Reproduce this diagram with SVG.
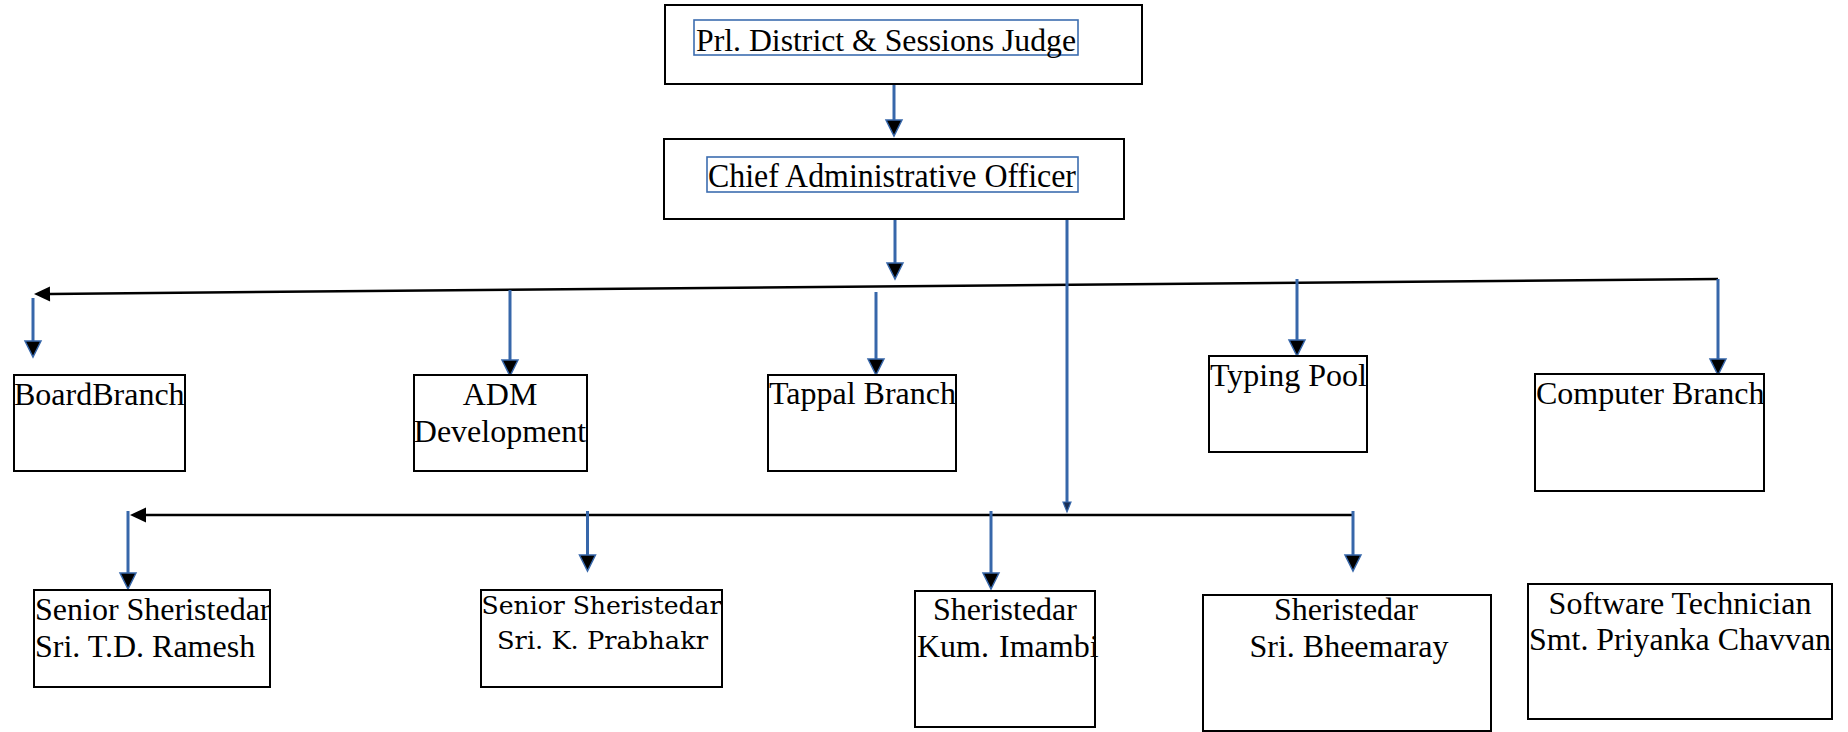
<svg xmlns="http://www.w3.org/2000/svg" width="1848" height="732" viewBox="0 0 1848 732">
<style>
.box{fill:#fff;stroke:#000;stroke-width:2}
.tb{fill:none;stroke:#3c6db0;stroke-width:1.6}
.t{font-family:"Liberation Serif","Times New Roman",serif;font-size:32px;fill:#000}
.t2{font-family:"DejaVu Serif",serif;font-size:24px;fill:#000}
.m{text-anchor:middle}
.bl{stroke:#3767aa;stroke-width:3;fill:none;marker-end:url(#ab)}
.blt{stroke:#3767aa;stroke-width:3;fill:none;marker-end:url(#abs)}
.k{stroke:#000;stroke-width:2.5;fill:none;marker-end:url(#ak)}
</style>
<defs>
<marker id="ab" markerUnits="userSpaceOnUse" markerWidth="20" markerHeight="20" viewBox="-2 -10 20 20" refX="0" refY="0" orient="auto" overflow="visible">
<path d="M0,-8 L16,0 L0,8 Z" fill="#000" stroke="#3767aa" stroke-width="1.5" stroke-linejoin="miter"/>
</marker>
<marker id="abs" markerUnits="userSpaceOnUse" markerWidth="14" markerHeight="14" viewBox="-2 -7 14 14" refX="0" refY="0" orient="auto" overflow="visible">
<path d="M0,-4 L10,0 L0,4 Z" fill="#1a2f55" stroke="#3767aa" stroke-width="1.2"/>
</marker>
<marker id="ak" markerUnits="userSpaceOnUse" markerWidth="20" markerHeight="20" viewBox="-2 -10 20 20" refX="0" refY="0" orient="auto" overflow="visible">
<path d="M0,-7.5 L16,0 L0,7.5 Z" fill="#000"/>
</marker>
</defs>

<g id="connectors">
<line class="k" x1="1718" y1="279" x2="50" y2="293.9"/>
<line class="k" x1="1353" y1="515" x2="146" y2="515"/>
<line class="bl" x1="894" y1="77" x2="894" y2="120"/>
<line class="bl" x1="895" y1="213" x2="895" y2="263"/>
<line class="blt" x1="1067" y1="219" x2="1067" y2="502"/>
<line class="bl" x1="33" y1="298" x2="33" y2="341"/>
<line class="bl" x1="510" y1="290" x2="510" y2="360"/>
<line class="bl" x1="876" y1="292" x2="876" y2="359"/>
<line class="bl" x1="1297" y1="279" x2="1297" y2="340"/>
<line class="bl" x1="1718" y1="279" x2="1718" y2="359"/>
<line class="bl" x1="128" y1="511" x2="128" y2="573"/>
<line class="bl" x1="587.5" y1="511" x2="587.5" y2="555"/>
<line class="bl" x1="991" y1="511" x2="991" y2="573"/>
<line class="bl" x1="1353" y1="511" x2="1353" y2="555"/>
</g>

<g id="judge">
<rect class="box" x="665" y="5" width="477" height="79"/>
<rect class="tb" x="694" y="20" width="384" height="35"/>
<text class="t" x="696" y="51" textLength="380" lengthAdjust="spacingAndGlyphs">Prl. District &amp; Sessions Judge</text>
</g>

<g id="cao">
<rect class="box" x="664" y="139" width="460" height="80"/>
<rect class="tb" x="707" y="157" width="371" height="35"/>
<text class="t" x="708" y="187" style="font-size:33px" textLength="368" lengthAdjust="spacingAndGlyphs">Chief Administrative Officer</text>
</g>

<g id="board">
<rect class="box" x="14" y="375" width="171" height="96"/>
<text class="t" x="14" y="405">BoardBranch</text>
</g>

<g id="adm">
<rect class="box" x="414" y="375" width="173" height="96"/>
<text class="t m" x="500" y="405">ADM</text>
<text class="t m" x="500" y="442">Development</text>
</g>

<g id="tappal">
<rect class="box" x="768" y="375" width="188" height="96"/>
<text class="t" x="769" y="404">Tappal Branch</text>
</g>

<g id="typing">
<rect class="box" x="1209" y="356" width="158" height="96"/>
<text class="t" x="1210" y="386">Typing Pool</text>
</g>

<g id="computer">
<rect class="box" x="1535" y="374" width="229" height="117"/>
<text class="t" x="1536" y="404">Computer Branch</text>
</g>

<g id="ramesh">
<rect class="box" x="34" y="590" width="236" height="97"/>
<text class="t" x="35" y="620">Senior Sheristedar</text>
<text class="t" x="35" y="657">Sri. T.D. Ramesh</text>
</g>

<g id="prabhakr">
<rect class="box" x="481" y="590" width="241" height="97"/>
<text class="t2 m" x="601.5" y="614" textLength="240" lengthAdjust="spacingAndGlyphs">Senior Sheristedar</text>
<text class="t2 m" x="602.5" y="649" textLength="211" lengthAdjust="spacingAndGlyphs">Sri. K. Prabhakr</text>
</g>

<g id="imambi">
<rect class="box" x="915" y="591" width="180" height="136"/>
<text class="t m" x="1005" y="620">Sheristedar</text>
<text class="t" y="657"><tspan x="917">Kum.</tspan><tspan x="999">Imambi</tspan></text>
</g>

<g id="bheemaray">
<rect class="box" x="1203" y="595" width="288" height="136"/>
<text class="t m" x="1346" y="620">Sheristedar</text>
<text class="t m" x="1349" y="657">Sri. Bheemaray</text>
</g>

<g id="software">
<rect class="box" x="1528" y="584" width="304" height="135"/>
<text class="t m" x="1680" y="614">Software Technician</text>
<text class="t" x="1529" y="650" textLength="302" lengthAdjust="spacingAndGlyphs">Smt. Priyanka Chavvan</text>
</g>
</svg>
